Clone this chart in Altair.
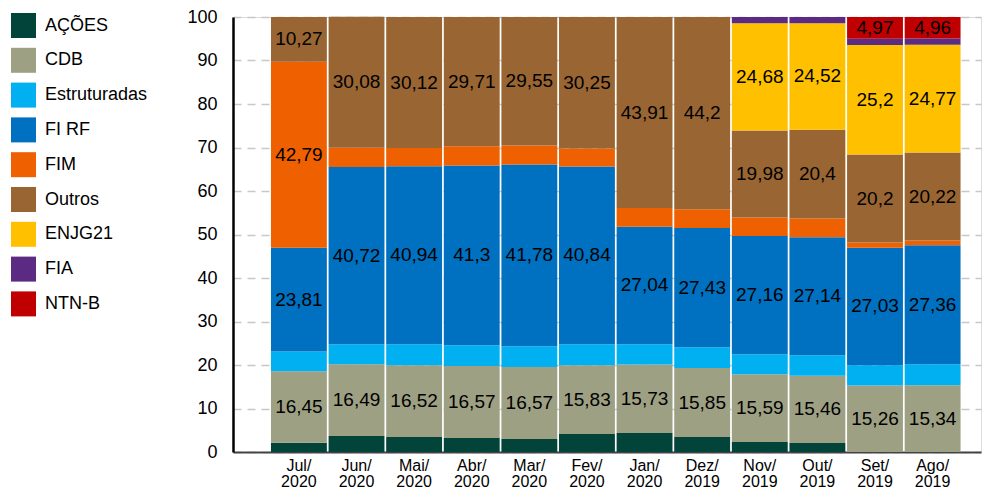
import altair as alt
import pandas as pd

months = ["Jul/ 2020", "Jun/ 2020", "Mai/ 2020", "Abr/ 2020", "Mar/ 2020", "Fev/ 2020",
          "Jan/ 2020", "Dez/ 2019", "Nov/ 2019", "Out/ 2019", "Set/ 2019", "Ago/ 2019"]

series = ["AÇÕES", "CDB", "Estruturadas", "FI RF", "FIM", "Outros", "ENJG21", "FIA", "NTN-B"]
colors = ["#02433A", "#9EA083", "#00B0F0", "#0070C0", "#EE6000", "#996633", "#FFC000", "#5B2B84", "#C00000"]

acoes = [2.1, 3.67, 3.44, 3.21, 2.98, 4.13, 4.36, 3.44, 2.29, 2.06, 0, 0]
cdb = [16.45, 16.49, 16.52, 16.57, 16.57, 15.83, 15.73, 15.85, 15.59, 15.46, 15.26, 15.34]
estruturadas = [4.58, 4.61, 4.81, 4.76, 4.76, 4.81, 4.68, 4.79, 4.60, 4.73, 4.69, 4.84]
fi_rf = [23.81, 40.72, 40.94, 41.3, 41.78, 40.84, 27.04, 27.43, 27.16, 27.14, 27.03, 27.36]
fim = [42.79, 4.46, 4.17, 4.45, 4.36, 4.14, 4.28, 4.29, 4.26, 4.28, 1.19, 1.08]
outros = [10.27, 30.08, 30.12, 29.71, 29.55, 30.25, 43.91, 44.2, 19.98, 20.4, 20.2, 20.22]
enjg21 = [0, 0, 0, 0, 0, 0, 0, 0, 24.68, 24.52, 25.2, 24.77]
fia = [0, 0, 0, 0, 0, 0, 0, 0, 1.44, 1.41, 1.45, 1.43]
ntnb = [0, 0, 0, 0, 0, 0, 0, 0, 0, 0, 4.97, 4.96]

all_vals = [acoes, cdb, estruturadas, fi_rf, fim, outros, enjg21, fia, ntnb]

rows = []
for si, (name, vals) in enumerate(zip(series, all_vals)):
    for mi, m in enumerate(months):
        rows.append({"month": m, "serie": name, "idx": si, "value": vals[mi]})
df = pd.DataFrame(rows)

FONT = "Liberation Sans"

x_enc = alt.X("month:N", sort=months, title=None,
              scale=alt.Scale(paddingInner=0.03, paddingOuter=0.507, align=0.65),
              axis=alt.Axis(labelExpr="split(datum.label, ' ')", labelAngle=0,
                            labelFontSize=16, labelColor="#000000", labelLineHeight=16,
                            labelPadding=5, ticks=False, domainColor="#444444",
                            domainWidth=2, grid=False, labelFont=FONT))

bars = alt.Chart(df).mark_bar(stroke=None).encode(
    x=x_enc,
    y=alt.Y("value:Q", stack="zero", title=None,
            scale=alt.Scale(domain=[0, 100], nice=False),
            axis=alt.Axis(values=list(range(0, 101, 10)), labelFontSize=18,
                          labelColor="#000000", labelPadding=16, ticks=False,
                          domainColor="#000000", domainWidth=2.5,
                          gridColor="#C8C8C8", gridDash=[8, 6], gridWidth=1.5,
                          labelFont=FONT)),
    color=alt.Color("serie:N", scale=alt.Scale(domain=series, range=colors),
                    legend=alt.Legend(title=None, orient="none", legendX=-222, legendY=-4,
                                      symbolType="square", symbolSize=625,
                                      symbolStrokeWidth=0, labelFontSize=18,
                                      labelOffset=9, rowPadding=9.8, padding=0,
                                      labelColor="#000000", labelFont=FONT)),
    order=alt.Order("idx:Q"),
)

labels = alt.Chart(df).transform_stack(
    stack="value", groupby=["month"], as_=["y0", "y1"], sort=[alt.SortField("idx")]
).transform_calculate(
    mid="(datum.y0 + datum.y1) / 2",
    lab="replace(toString(datum.value), '.', ',')",
).transform_filter(
    "datum.value >= 4.9"
).mark_text(fontSize=19, color="#000000", font=FONT).encode(
    x=alt.X("month:N", sort=months),
    y=alt.Y("mid:Q"),
    text="lab:N",
)

chart = alt.layer(bars, labels).properties(
    width=748, height=435, autosize="none",
    padding={"left": 225, "top": 9, "right": 4, "bottom": 36},
).configure_view(strokeWidth=0).configure(font=FONT)

chart.save("out.html", embed_options={"renderer": "svg", "actions": False})
